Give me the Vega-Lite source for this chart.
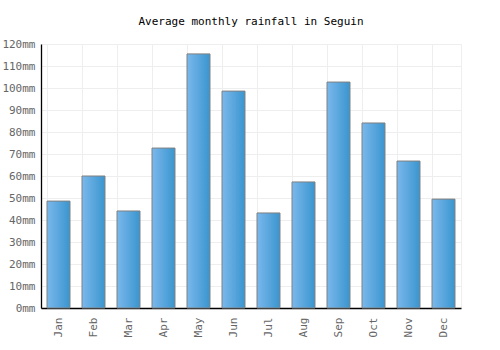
{
  "$schema": "https://vega.github.io/schema/vega-lite/v6.json",
  "width": 420,
  "height": 264,
  "autosize": {"type": "none"},
  "padding": {"left": 41, "top": 44, "right": 39, "bottom": 42},
  "background": "white",
  "title": {
    "text": "Average monthly rainfall in Seguin",
    "font": "DejaVu Sans Mono",
    "fontSize": 11,
    "fontWeight": "normal",
    "color": "#000000",
    "anchor": "middle",
    "offset": 11
  },
  "config": {
    "view": {"stroke": "#eeeeee", "strokeWidth": 1},
    "axis": {
      "labelFont": "DejaVu Sans Mono",
      "labelFontSize": 11,
      "labelColor": "#666666",
      "gridColor": "#eeeeee",
      "gridWidth": 1,
      "domainColor": "#000000",
      "domainWidth": 1.3,
      "ticks": false,
      "title": null
    }
  },
  "data": {
    "values": [
      {"month": "Jan", "rain": 48.6},
      {"month": "Feb", "rain": 60},
      {"month": "Mar", "rain": 44.1},
      {"month": "Apr", "rain": 72.7},
      {"month": "May", "rain": 115.5},
      {"month": "Jun", "rain": 98.6},
      {"month": "Jul", "rain": 43.2},
      {"month": "Aug", "rain": 57.3},
      {"month": "Sep", "rain": 102.7},
      {"month": "Oct", "rain": 84.1},
      {"month": "Nov", "rain": 66.8},
      {"month": "Dec", "rain": 49.5}
    ]
  },
  "mark": {
    "type": "bar",
    "stroke": "#808080",
    "strokeWidth": 1,
    "color": {
      "gradient": "linear",
      "x1": 0, "y1": 0, "x2": 1, "y2": 0,
      "stops": [
        {"offset": 0, "color": "#7ab8ec"},
        {"offset": 1, "color": "#3a95cf"}
      ]
    }
  },
  "encoding": {
    "x": {
      "field": "month",
      "type": "nominal",
      "sort": null,
      "scale": {"paddingInner": 0.343, "paddingOuter": 0.1715},
      "axis": {
        "labelAngle": 270,
        "labelAlign": "right",
        "labelBaseline": "middle",
        "labelPadding": 9,
        "grid": true,
        "bandPosition": 0
      }
    },
    "y": {
      "field": "rain",
      "type": "quantitative",
      "scale": {"domain": [0, 120], "nice": false},
      "axis": {
        "values": [0, 10, 20, 30, 40, 50, 60, 70, 80, 90, 100, 110, 120],
        "labelExpr": "datum.value + 'mm'",
        "labelPadding": 6,
        "grid": true
      }
    }
  }
}
